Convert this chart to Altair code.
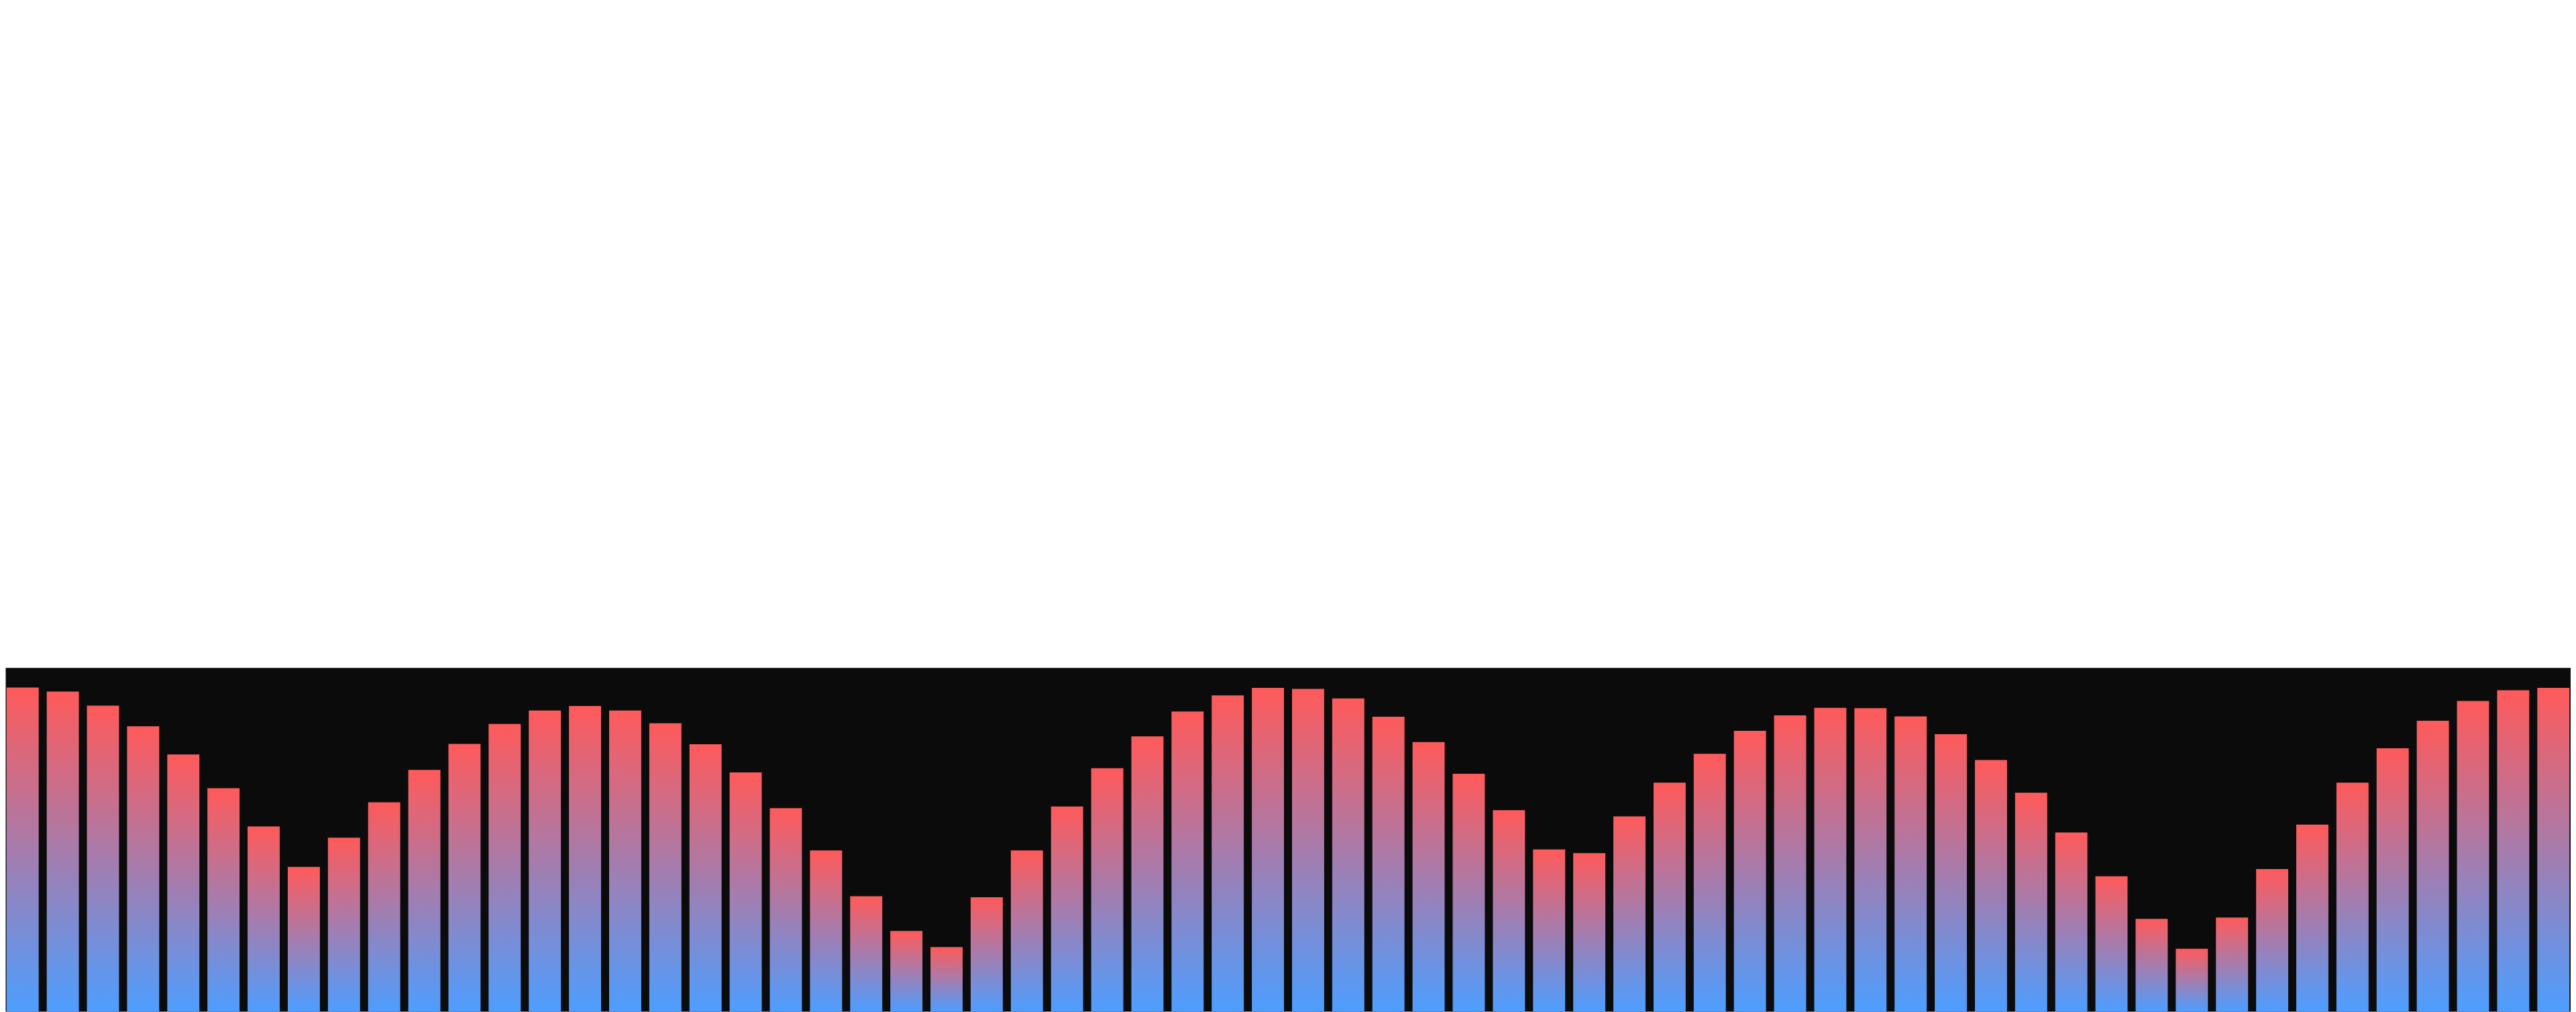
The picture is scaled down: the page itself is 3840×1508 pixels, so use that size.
import altair as alt
import pandas as pd

# 64 bars, values on a 0-100 scale (100 = top of the dark panel)
bars = list(range(1, 65))
values = [
    94.2, 93.0, 88.9, 82.9, 74.7, 64.9, 53.8, 42.0, 50.5, 60.8,
    70.2, 77.8, 83.6, 87.5, 88.8, 87.5, 83.8, 77.7, 69.5, 59.1,
    46.8, 33.5, 23.4, 18.7, 33.2, 46.8, 59.6, 70.7, 80.0, 87.2,
    91.9, 94.1, 93.8, 91.0, 85.7, 78.3, 69.1, 58.5, 47.1, 46.0,
    56.7, 66.5, 74.9, 81.6, 86.1, 88.3, 88.2, 85.8, 80.6, 73.1,
    63.6, 52.0, 39.3, 26.9, 18.2, 27.3, 41.4, 54.3, 66.5, 76.5,
    84.5, 90.3, 93.4, 94.1,
]

df = pd.DataFrame({"bar": bars, "value": values})

gradient = alt.Gradient(
    gradient="linear",
    x1=0, y1=0, x2=0, y2=1,
    stops=[
        alt.GradientStop(offset=0, color="#ff5a5a"),
        alt.GradientStop(offset=1, color="#4d9eff"),
    ],
)

chart = (
    alt.Chart(df)
    .mark_bar(color=gradient, cornerRadius=0)
    .encode(
        x=alt.X(
            "bar:O",
            axis=None,
            scale=alt.Scale(paddingInner=0.2, paddingOuter=0.03),
        ),
        y=alt.Y(
            "value:Q",
            axis=None,
            scale=alt.Scale(domain=[0, 100], nice=False, zero=True),
        ),
    )
    .properties(
        width=3829,
        height=513,
        padding={"top": 987, "left": 0, "right": 0, "bottom": 0},
    )
    .configure_view(fill="#0b0b0b", stroke="transparent")
)

chart.save("out.html", embed_options={"renderer": "svg", "actions": False})
